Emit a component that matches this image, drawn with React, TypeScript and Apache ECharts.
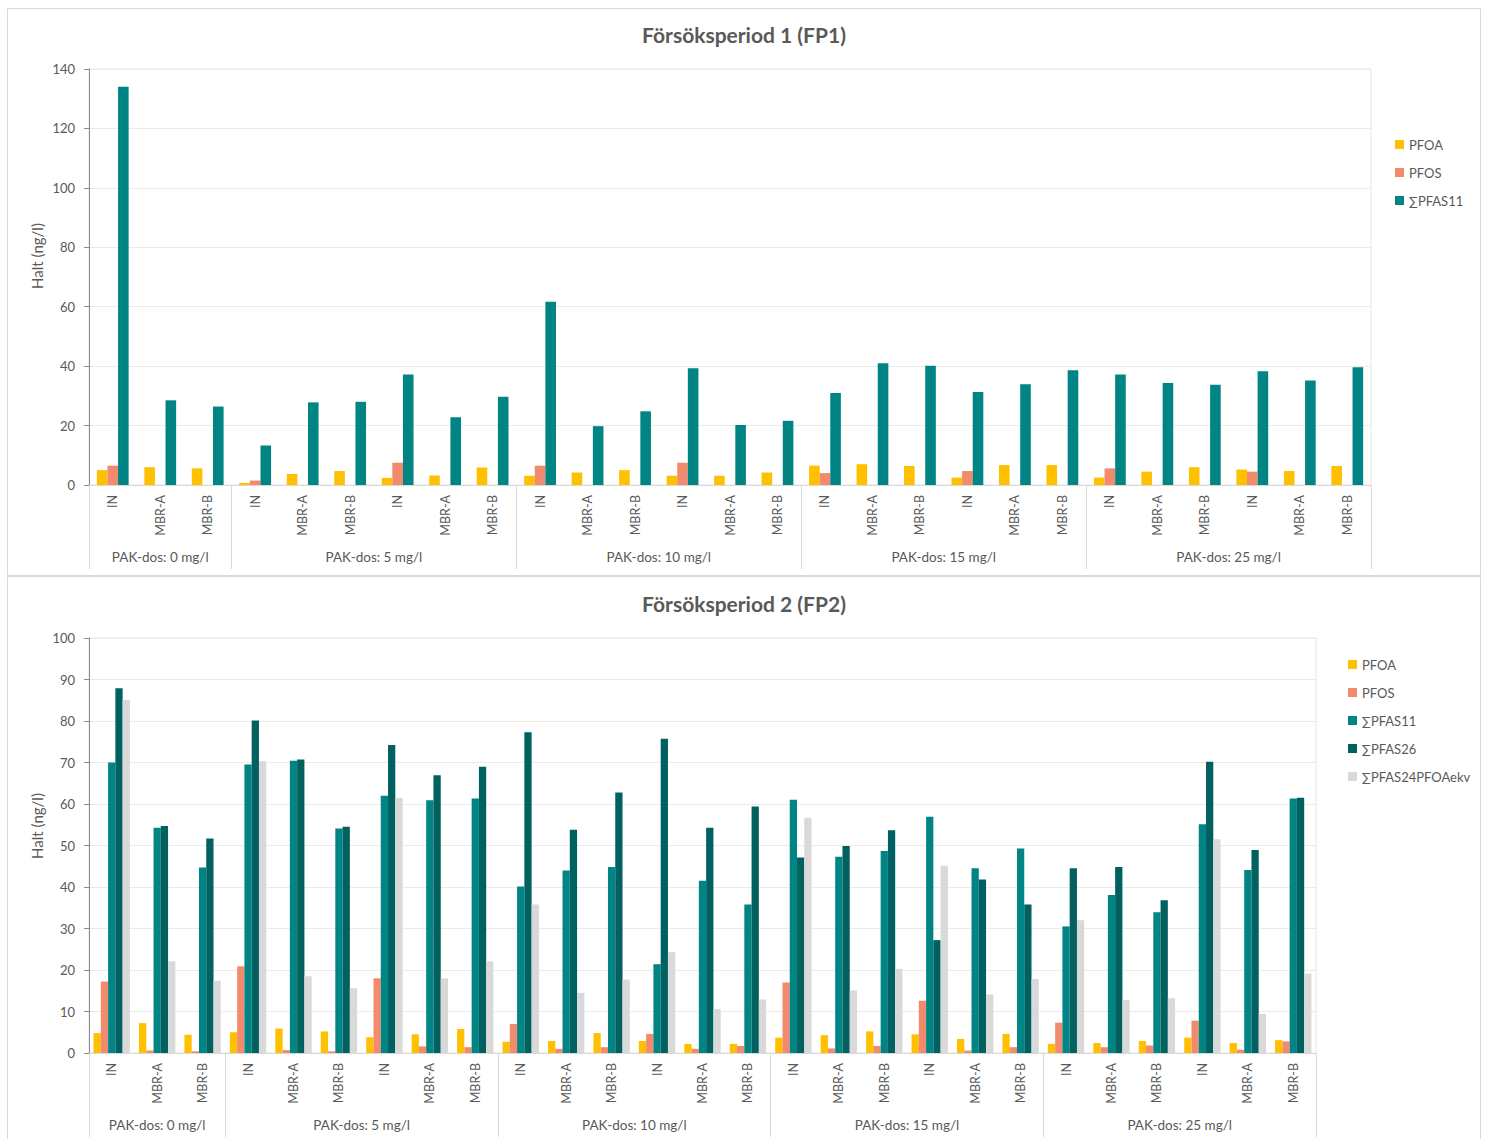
import React, { useEffect, useRef } from 'react';
import * as echarts from 'echarts';

// Sampling points along the x axis (three per PAK dose, doubled for the higher doses)
const categories = [
  'IN', 'MBR-A', 'MBR-B',
  'IN', 'MBR-A', 'MBR-B', 'IN', 'MBR-A', 'MBR-B',
  'IN', 'MBR-A', 'MBR-B', 'IN', 'MBR-A', 'MBR-B',
  'IN', 'MBR-A', 'MBR-B', 'IN', 'MBR-A', 'MBR-B',
  'IN', 'MBR-A', 'MBR-B', 'IN', 'MBR-A', 'MBR-B',
];

const doseGroups = ['PAK-dos: 0 mg/l', 'PAK-dos: 5 mg/l', 'PAK-dos: 10 mg/l', 'PAK-dos: 15 mg/l', 'PAK-dos: 25 mg/l'];
const doseGroupSizes = [3, 6, 6, 6, 6];

// Försöksperiod 1 (ng/l)
const fp1Pfoa = [5.0, 6.0, 5.6, 0.7, 3.7, 4.7, 2.4, 3.2, 5.9, 3.1, 4.2, 5.0, 3.1, 3.1, 4.2, 6.5, 7.0, 6.4, 2.5, 6.7, 6.7, 2.5, 4.5, 6.0, 5.2, 4.7, 6.4];
const fp1Pfos = [6.5, null, null, 1.5, null, null, 7.5, null, null, 6.5, null, null, 7.5, null, null, 4.0, null, null, 4.7, null, null, 5.6, null, null, 4.5, null, null];
const fp1Pfas11 = [134.0, 28.5, 26.4, 13.3, 27.8, 28.0, 37.2, 22.8, 29.7, 61.7, 19.8, 24.8, 39.3, 20.2, 21.6, 31.0, 41.0, 40.1, 31.3, 33.9, 38.6, 37.2, 34.3, 33.7, 38.3, 35.2, 39.6];

// Försöksperiod 2 (ng/l)
const fp2Pfoa = [4.8, 7.2, 4.4, 5.0, 5.9, 5.2, 3.8, 4.5, 5.8, 2.7, 2.9, 4.8, 2.9, 2.2, 2.2, 3.7, 4.3, 5.2, 4.5, 3.4, 4.6, 2.2, 2.4, 2.9, 3.7, 2.4, 3.1];
const fp2Pfos = [17.2, 0.6, 0.4, 20.9, 0.7, 0.4, 18.0, 1.6, 1.4, 7.0, 1.0, 1.4, 4.6, 1.0, 1.7, 17.0, 1.1, 1.7, 12.6, 0.6, 1.4, 7.3, 1.4, 1.8, 7.8, 0.8, 2.8];
const fp2Pfas11 = [70.0, 54.3, 44.7, 69.5, 70.4, 54.1, 62.0, 60.9, 61.3, 40.1, 44.0, 44.8, 21.4, 41.5, 35.8, 61.0, 47.3, 48.7, 56.9, 44.5, 49.3, 30.5, 38.1, 33.9, 55.1, 44.1, 61.3];
const fp2Pfas26 = [87.9, 54.7, 51.7, 80.1, 70.7, 54.5, 74.2, 66.9, 69.0, 77.3, 53.8, 62.8, 75.7, 54.3, 59.4, 47.1, 49.9, 53.7, 27.2, 41.8, 35.8, 44.5, 44.8, 36.8, 70.2, 48.9, 61.5];
const fp2Pfas24 = [85.1, 22.1, 17.4, 70.3, 18.5, 15.6, 61.5, 18.0, 22.1, 35.8, 14.5, 17.7, 24.3, 10.6, 12.9, 56.7, 15.1, 20.3, 45.1, 14.1, 17.8, 32.0, 12.8, 13.2, 51.5, 9.4, 19.1];

const fp1Ticks = { min: 0, max: 140, interval: 20 };
const fp2Ticks = { min: 0, max: 100, interval: 10 };

const COLORS: Record<string, string> = {
  PFOA: '#FFC000',
  PFOS: '#F28B6E',
  '∑PFAS11': '#008584',
  '∑PFAS26': '#006160',
  '∑PFAS24PFOAekv': '#D9D9D9',
};

const FONT = 'Lato, "Open Sans", sans-serif';
const TEXT = '#595959';

// Half-category slots for the dose group axis: group boundaries sit on even
// slots, group centres on the slot halfway between them.
function buildGroupAxis(sizes: number[], names: string[]) {
  const total = sizes.reduce((a, b) => a + b, 0);
  const data: string[] = new Array(total * 2 + 1).fill('');
  const bounds: number[] = [0];
  const centers: number[] = [];
  let pos = 0;
  sizes.forEach((s, i) => {
    const c = pos * 2 + s;
    centers.push(c);
    data[c] = names[i];
    pos += s;
    bounds.push(pos * 2);
  });
  return { data, bounds, centers };
}

const groupAxis = buildGroupAxis(doseGroupSizes, doseGroups);

function xAxesFor(gridIndex: number) {
  return [
    {
      type: 'category',
      gridIndex,
      data: categories,
      position: 'bottom',
      axisLine: { show: true, lineStyle: { color: '#d9d9d9' } },
      axisTick: { show: false },
      axisLabel: { interval: 0, rotate: 90, margin: 10, fontSize: 12.5, color: TEXT, fontFamily: FONT },
      splitLine: { show: false },
    },
    {
      type: 'category',
      gridIndex,
      data: groupAxis.data,
      boundaryGap: false,
      position: 'bottom',
      axisLine: { show: false },
      axisTick: {
        show: true,
        interval: (i: number) => groupAxis.bounds.includes(i),
        length: 84,
        lineStyle: { color: '#d9d9d9' },
      },
      axisLabel: {
        interval: (i: number) => groupAxis.centers.includes(i),
        margin: 65,
        fontSize: 13.5,
        color: TEXT,
        fontFamily: FONT,
      },
      splitLine: { show: false },
    },
  ];
}

function yAxisFor(gridIndex: number, ticks: { min: number; max: number; interval: number }) {
  return {
    type: 'value',
    gridIndex,
    ...ticks,
    axisLine: { show: true, lineStyle: { color: '#8a8a8a' } },
    axisTick: { show: true, length: 5, lineStyle: { color: '#8a8a8a' } },
    axisLabel: { margin: 14, fontSize: 13, color: TEXT, fontFamily: FONT },
    splitLine: { show: true, lineStyle: { color: '#ebebeb' } },
  };
}

function barSeries(name: string, data: (number | null)[], gridIndex: number, catGap: string) {
  return {
    type: 'bar',
    name,
    data,
    xAxisIndex: gridIndex * 2,
    yAxisIndex: gridIndex,
    barGap: '0%',
    barCategoryGap: catGap,
    itemStyle: { color: COLORS[name] },
  };
}

const legendStyle = {
  orient: 'vertical',
  icon: 'rect',
  padding: 0,
  itemWidth: 9,
  itemHeight: 9,
  itemGap: 15,
  textStyle: { fontSize: 13, color: TEXT, fontFamily: FONT },
};

export default function App() {
  const ref = useRef<HTMLDivElement>(null);

  useEffect(() => {
    if (!ref.current) return;
    const chart = echarts.init(ref.current, null, { renderer: 'svg' });
    chart.setOption({
      animation: false,
      backgroundColor: '#ffffff',
      textStyle: { fontFamily: FONT },
      title: [
        {
          text: 'Försöksperiod 1 (FP1)',
          left: 'center',
          top: 19,
          textStyle: { fontSize: 21, fontWeight: 'bold', color: TEXT, fontFamily: FONT },
        },
        {
          text: 'Försöksperiod 2 (FP2)',
          left: 'center',
          top: 588,
          textStyle: { fontSize: 21, fontWeight: 'bold', color: TEXT, fontFamily: FONT },
        },
      ],
      legend: [
        { ...legendStyle, left: 1395, top: 138, data: ['PFOA', 'PFOS', '∑PFAS11'] },
        {
          ...legendStyle,
          left: 1348,
          top: 658,
          data: ['PFOA', 'PFOS', '∑PFAS11', '∑PFAS26', '∑PFAS24PFOAekv'],
        },
      ],
      grid: [
        { left: 89, top: 69, width: 1282, height: 416, show: true, borderColor: '#e6e6e6', borderWidth: 1 },
        { left: 89, top: 638, width: 1227, height: 415, show: true, borderColor: '#e6e6e6', borderWidth: 1 },
      ],
      xAxis: [...xAxesFor(0), ...xAxesFor(1)],
      yAxis: [yAxisFor(0, fp1Ticks), yAxisFor(1, fp2Ticks)],
      series: [
        barSeries('PFOA', fp1Pfoa, 0, '33%'),
        barSeries('PFOS', fp1Pfos, 0, '33%'),
        barSeries('∑PFAS11', fp1Pfas11, 0, '33%'),
        barSeries('PFOA', fp2Pfoa, 1, '20%'),
        barSeries('PFOS', fp2Pfos, 1, '20%'),
        barSeries('∑PFAS11', fp2Pfas11, 1, '20%'),
        barSeries('∑PFAS26', fp2Pfas26, 1, '20%'),
        barSeries('∑PFAS24PFOAekv', fp2Pfas24, 1, '20%'),
      ],
      graphic: [
        {
          type: 'rect',
          shape: { x: 7.5, y: 8.5, width: 1473, height: 567 },
          style: { fill: 'none', stroke: '#d9d9d9', lineWidth: 1 },
          silent: true,
        },
        {
          type: 'rect',
          shape: { x: 7.5, y: 576.5, width: 1473, height: 600 },
          style: { fill: 'none', stroke: '#d9d9d9', lineWidth: 1 },
          silent: true,
        },
        {
          type: 'text',
          x: 37,
          y: 256,
          rotation: Math.PI / 2,
          style: { text: 'Halt (ng/l)', fill: TEXT, font: `15px ${FONT}`, align: 'center', verticalAlign: 'middle' },
          silent: true,
        },
        {
          type: 'text',
          x: 37,
          y: 826,
          rotation: Math.PI / 2,
          style: { text: 'Halt (ng/l)', fill: TEXT, font: `15px ${FONT}`, align: 'center', verticalAlign: 'middle' },
          silent: true,
        },
      ],
    });
    return () => chart.dispose();
  }, []);

  return (
    <div
      ref={ref}
      style={{ position: 'absolute', left: 0, top: 0, width: 1488, height: 1139, background: '#fff' }}
    />
  );
}
